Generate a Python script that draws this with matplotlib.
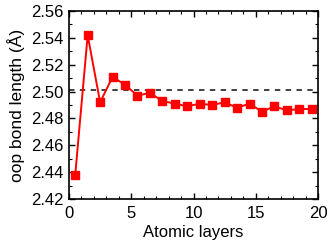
import numpy as np
import matplotlib.pyplot as plt
from matplotlib.ticker import MultipleLocator

plt.rcParams['font.family'] = ['Liberation Sans', 'DejaVu Sans']

layers = np.arange(20) + 0.5
bond = [2.438, 2.542, 2.492, 2.511, 2.505, 2.497, 2.499, 2.493, 2.491, 2.489,
        2.491, 2.490, 2.492, 2.488, 2.491, 2.485, 2.489, 2.486, 2.487, 2.487]
bulk = 2.501

fig = plt.figure(figsize=(3.32, 2.45), dpi=100)
ax = fig.add_axes([69/332, 46/245, 249/332, 188/245])

ax.axhline(bulk, color='#333333', linestyle=(0, (3, 3)), linewidth=1.3)
ax.plot(layers, bond, '-s', color='#ff0000', markersize=5.5, linewidth=1.4)

ax.set_xlim(0, 20)
ax.set_ylim(2.42, 2.56)
ax.xaxis.set_major_locator(MultipleLocator(5))
ax.xaxis.set_minor_locator(MultipleLocator(1))
ax.yaxis.set_major_locator(MultipleLocator(0.02))
ax.yaxis.set_minor_locator(MultipleLocator(0.01))
ax.yaxis.set_major_formatter(plt.FormatStrFormatter('%.2f'))
ax.tick_params(which='both', direction='in', top=True, right=True, labelsize=12)
ax.tick_params(which='major', length=4, width=1, pad=4)
ax.tick_params(axis='x', which='major', pad=5)
ax.tick_params(which='minor', length=2.5, width=0.8)
for s in ax.spines.values():
    s.set_linewidth(1.2)

ax.set_xlabel('Atomic layers', fontsize=12, labelpad=3)
ax.set_ylabel('oop bond length (Å)', fontsize=12.5, labelpad=4)

fig.savefig('out.png', dpi=100)
